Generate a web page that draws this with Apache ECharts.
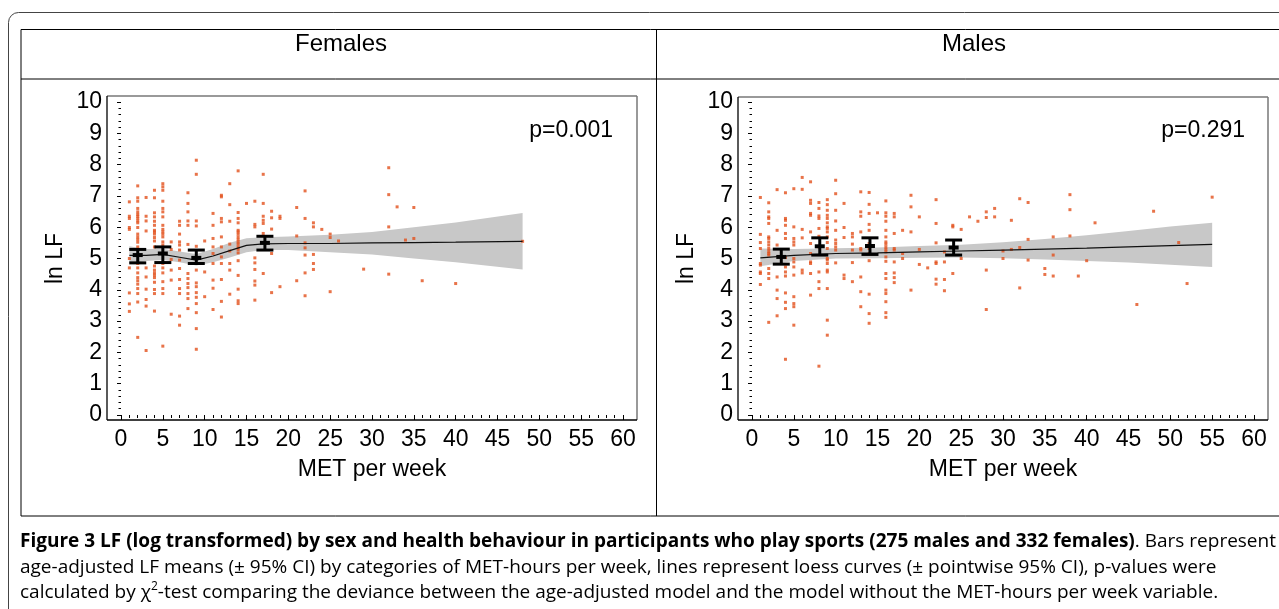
<!DOCTYPE html>
<html><head><meta charset="utf-8">
<script src="https://cdn.jsdelivr.net/npm/echarts@6/dist/echarts.min.js"></script>
<style>html,body{margin:0;padding:0;background:#fff}#c{width:1279px;height:609px}</style>
</head><body><div id="c"></div>
<script>
// ---------- data ----------
const panelTitles = ['Females', 'Males'];
const pValues = ['p=0.001', 'p=0.291'];
const xTickValues = [0,5,10,15,20,25,30,35,40,45,50,55,60];
const yTickValues = [0,1,2,3,4,5,6,7,8,9,10];

// scatter: [MET, [ln LF values]]
const femaleScatter = [
 [1,[6.81,6.35,6.28,5.99,5.93,5.0,4.70,3.90,3.55,3.31]],
 [2,[7.32,6.94,6.83,6.60,6.49,6.41,6.35,6.28,6.20,6.14,5.99,5.78,5.69,5.61,5.52,5.37,4.84,4.70,4.54,4.39,4.29,4.18,4.04,3.88,3.61,2.48]],
 [3,[6.95,6.35,6.20,5.88,4.70,4.41,4.02,3.69,3.48,2.06]],
 [4,[7.18,6.94,6.46,6.33,6.19,6.06,5.90,5.85,5.78,5.67,5.56,5.37,4.76,4.63,4.54,4.47,4.39,4.24,4.01,3.88,3.32]],
 [5,[7.39,7.29,7.18,6.83,6.60,6.49,6.33,6.06,5.93,5.85,5.78,5.69,5.53,5.43,4.84,4.70,4.54,4.26,4.04,3.88,2.20]],
 [6,[5.53,5.29,4.97,4.63,4.31,3.22]],
 [7,[6.19,6.06,5.78,5.53,5.43,5.27,4.95,4.68,4.33,4.04,3.88,3.16,2.87]],
 [8,[7.10,6.76,6.49,6.20,6.06,5.45,4.52,4.36,4.20,4.07,3.88,3.72,3.40]],
 [9,[8.14,7.69,6.20,6.04,5.39,4.63,4.22,4.10,3.91,3.76,3.56,3.27,2.76,2.10]],
 [10,[5.56,4.57,3.78]],
 [11,[6.44,6.06,5.64,5.37,5.16,4.84,4.31,4.05,3.37]],
 [12,[7.02,6.97,6.28,6.17,5.69,5.37,5.05,4.84,4.33,3.63,3.13]],
 [13,[7.39,6.72,6.19,5.46,5.24,4.84,4.63,3.86]],
 [14,[7.80,6.47,6.28,6.14,5.90,5.85,5.78,5.69,5.61,5.53,5.46,5.37,5.29,5.18,4.93,4.46,4.02,3.65,3.56]],
 [15,[6.76]],
 [16,[6.83,6.09,6.01,5.02,4.86,4.65,4.28,4.15,3.67]],
 [17,[7.69,6.76,6.35,6.22,6.12,5.80,4.52]],
 [18,[6.51,6.30,5.94,5.16,3.91]],
 [19,[6.35,6.28,4.10]],
 [21,[6.63,5.72,4.29]],
 [22,[7.16,6.28,5.50,5.34,5.11,4.54,3.81]],
 [23,[6.14,6.01,5.13,4.84,4.65]],
 [24,[5.93]],
 [25,[5.78,5.67,3.94]],
 [26,[5.56]],
 [29,[4.66]],
 [32,[7.90,7.04,6.01,4.50]],
 [33,[6.65]],
 [34,[5.59]],
 [35,[6.63,5.64]],
 [36,[4.29]],
 [40,[4.20]],
 [48,[5.55]]
];
const maleScatter = [
 [1,[6.95,5.77,5.51,5.32,4.84,4.79,4.57,4.52,4.17]],
 [2,[6.78,6.49,6.33,6.28,6.12,5.69,5.64,5.53,5.43,5.32,5.23,5.16,5.11,4.68,4.52,4.36,2.96]],
 [3,[7.20,5.90,5.43,4.41,3.99,3.72,3.17]],
 [4,[7.10,6.28,6.22,6.06,5.80,5.64,5.03,4.73,4.57,4.44,3.90,3.60,3.40,1.78]],
 [5,[7.23,6.01,5.64,5.53,5.43,5.00,4.89,4.73,4.47,3.78,3.56,3.46,2.87]],
 [6,[7.59,7.21,5.93,5.66,4.63,4.54]],
 [7,[7.45,6.86,6.76,6.44,6.38,5.85,5.48,5.16,4.89,4.84,4.52,3.83]],
 [8,[6.79,6.60,6.36,6.28,5.96,5.71,5.37,4.57,4.26,4.04,1.56]],
 [9,[6.88,6.72,6.54,6.38,6.28,6.14,6.01,5.96,5.85,5.69,5.51,5.32,5.00,4.95,4.84,4.63,4.57,4.04,3.03,2.55]],
 [10,[7.50,7.07,6.54,6.20,5.90,5.59,5.48,5.37,5.27,4.86]],
 [11,[6.76,5.99,5.67,4.47,4.36]],
 [12,[5.80,5.69,5.46,5.27,4.87,4.26]],
 [13,[7.13,6.49,6.35,5.85,5.32,5.27,4.41,3.94,3.46]],
 [14,[7.11,6.73,6.44,6.09,5.90,5.48,5.32,5.16,4.93,3.86,3.24,2.93]],
 [15,[6.46]],
 [16,[6.84,6.46,6.35,6.19,5.90,5.69,5.53,5.46,5.37,5.29,5.21,5.05,4.91,4.52,4.36,3.99,3.88,3.62,3.27,3.12]],
 [17,[6.44,6.33,5.80,5.32,5.27,4.89,4.54,4.39,4.23]],
 [18,[5.90,5.16,5.00]],
 [19,[7.02,6.65,5.85,3.99]],
 [20,[6.33,5.29,4.81]],
 [21,[4.70]],
 [22,[6.88,6.12,5.50,4.89,4.84,4.34,4.18]],
 [23,[5.21,4.89,4.33,3.97]],
 [24,[6.06,6.01,4.52]],
 [25,[5.93,5.00]],
 [26,[6.33]],
 [27,[6.19]],
 [28,[6.49,6.31,4.63,3.37]],
 [29,[6.60,6.33]],
 [30,[5.24,5.00]],
 [31,[6.22,5.29]],
 [32,[6.91,5.35,4.06]],
 [33,[6.79,5.61,4.95]],
 [35,[4.68,4.49]],
 [36,[5.69,5.11,4.44]],
 [38,[7.04,6.56,5.72]],
 [39,[4.44]],
 [40,[4.93]],
 [41,[6.14]],
 [46,[3.53]],
 [48,[6.51]],
 [51,[5.51]],
 [52,[4.20]],
 [55,[6.96]]
];

// loess curves with pointwise 95% CI
const femaleLoessX  = [1,3,5,7,9,11,13,15,17,20,25,30,35,40,48];
const femaleLoessY  = [5.10,5.10,5.13,5.04,4.95,5.08,5.25,5.42,5.47,5.48,5.48,5.50,5.51,5.52,5.55];
const femaleLoessHi = [5.39,5.30,5.31,5.22,5.14,5.30,5.50,5.65,5.68,5.70,5.76,5.85,6.00,6.15,6.45];
const femaleLoessLo = [4.85,4.92,4.95,4.88,4.78,4.88,5.03,5.20,5.27,5.27,5.20,5.13,5.00,4.88,4.65];
const maleLoessX  = [1,5,10,15,20,25,30,35,40,45,50,55];
const maleLoessY  = [5.02,5.10,5.16,5.18,5.21,5.24,5.27,5.30,5.33,5.37,5.41,5.45];
const maleLoessHi = [5.32,5.30,5.33,5.35,5.40,5.44,5.52,5.62,5.74,5.88,6.02,6.14];
const maleLoessLo = [4.75,4.92,5.00,5.01,5.02,5.03,5.01,4.97,4.92,4.87,4.80,4.73];

// age-adjusted means (± 95% CI) by MET category
const femaleBarX    = [2, 5, 9, 17.2];
const femaleBarMean = [5.11, 5.16, 5.02, 5.50];
const femaleBarLo   = [4.86, 4.87, 4.84, 5.27];
const femaleBarHi   = [5.29, 5.37, 5.27, 5.71];
const maleBarX    = [3.5, 8.1, 14.1, 24.1];
const maleBarMean = [5.05, 5.39, 5.40, 5.35];
const maleBarLo   = [4.82, 5.11, 5.13, 5.11];
const maleBarHi   = [5.30, 5.66, 5.66, 5.59];

const captionBold = 'Figure 3 LF (log transformed) by sex and health behaviour in participants who play sports (275 males and 332 females)';
const captionRest1 = '. Bars represent';
const captionLine2 = 'age-adjusted LF means (± 95% CI) by categories of MET-hours per week, lines represent loess curves (± pointwise 95% CI), p-values were';
const captionLine3a = 'calculated by χ';
const captionLine3b = '2';
const captionLine3c = '-test comparing the deviance between the age-adjusted model and the model without the MET-hours per week variable.';

// ---------- build ----------
const FONT = 'Liberation Sans';
const CAPFONT = 'Open Sans';
const FS = 23;
const CFS = 19;
const DOT = '#e2501c';

function flatten(groups){ const out=[]; groups.forEach(g=>g[1].forEach(v=>out.push([g[0],v]))); return out; }
function zip2(a,b){ return a.map((v,i)=>[v,b[i]]); }
function bars(x,m,lo,hi){ return x.map((v,i)=>[v,lo[i],hi[i],m[i]]); }
function bandRows(x,lo,hi){ return x.map((v,i)=>[v,lo[i],hi[i]]); }

const grids = [
  {left:121, top:102, width:502, height:313},
  {left:752, top:102, width:502, height:313}
];

function xAxisFor(i){
  return {type:'value', gridIndex:i, min:0, max:60, interval:5, offset:5,
    axisLine:{show:false},
    axisTick:{show:true, length:5, inside:false, lineStyle:{color:'#000', width:1}},
    minorTick:{show:true, splitNumber:5, length:3, lineStyle:{color:'#000', width:1}},
    splitLine:{show:false},
    axisLabel:{margin:8, fontSize:FS, color:'#000', fontFamily:FONT,
      formatter:v=> xTickValues.includes(v) ? String(v) : ''},
    name:'MET per week', nameLocation:'middle', nameGap:38,
    nameTextStyle:{fontSize:FS, color:'#000', fontFamily:FONT}};
}
function yAxisFor(i){
  return {type:'value', gridIndex:i, min:0, max:10, interval:1, offset:14,
    axisLine:{show:false},
    axisTick:{show:true, length:4, lineStyle:{color:'#000', width:1}},
    minorTick:{show:true, splitNumber:5, length:2.5, lineStyle:{color:'#000', width:1}},
    splitLine:{show:false},
    axisLabel:{margin:5, fontSize:FS, color:'#000', fontFamily:FONT,
      formatter:v=> yTickValues.includes(v) ? String(v) : ''},
    name:'ln LF', nameLocation:'middle', nameGap:40, nameRotate:90,
    nameTextStyle:{fontSize:FS, color:'#000', fontFamily:FONT}};
}

function bandSeries(i, rows){
  return {type:'custom', xAxisIndex:i, yAxisIndex:i, z:1, silent:true,
    data:[0],
    renderItem:(params, api)=>{
      const top = rows.map(r=>api.coord([r[0], r[2]]));
      const bot = rows.slice().reverse().map(r=>api.coord([r[0], r[1]]));
      return {type:'polygon', shape:{points: top.concat(bot)}, style:{fill:'#c8c8c8', stroke:null}};
    }};
}
function errSeries(i, rows){
  return {type:'custom', xAxisIndex:i, yAxisIndex:i, z:5, silent:true,
    data: rows,
    renderItem:(params, api)=>{
      const x = api.value(0);
      const lo = api.coord([x, api.value(1)]);
      const hi = api.coord([x, api.value(2)]);
      const m  = api.coord([x, api.value(3)]);
      const cw = 8.5, mw = 5;
      return {type:'group', children:[
        {type:'line', shape:{x1:lo[0], y1:lo[1], x2:hi[0], y2:hi[1]}, style:{stroke:'#000', lineWidth:3}},
        {type:'line', shape:{x1:hi[0]-cw, y1:hi[1], x2:hi[0]+cw, y2:hi[1]}, style:{stroke:'#000', lineWidth:3}},
        {type:'line', shape:{x1:lo[0]-cw, y1:lo[1], x2:lo[0]+cw, y2:lo[1]}, style:{stroke:'#000', lineWidth:3}},
        {type:'rect', shape:{x:m[0]-mw, y:m[1]-2, width:2*mw, height:4}, style:{fill:'#000'}}
      ]};
    }};
}

const series = [
  bandSeries(0, bandRows(femaleLoessX, femaleLoessLo, femaleLoessHi)),
  bandSeries(1, bandRows(maleLoessX, maleLoessLo, maleLoessHi)),
  {type:'scatter', xAxisIndex:0, yAxisIndex:0, z:2, symbol:'rect', symbolSize:3, itemStyle:{color:DOT}, data:flatten(femaleScatter), silent:true},
  {type:'scatter', xAxisIndex:1, yAxisIndex:1, z:2, symbol:'rect', symbolSize:3, itemStyle:{color:DOT}, data:flatten(maleScatter), silent:true},
  {type:'line', xAxisIndex:0, yAxisIndex:0, z:3, symbol:'none', lineStyle:{color:'#111', width:1.2}, data:zip2(femaleLoessX, femaleLoessY), silent:true},
  {type:'line', xAxisIndex:1, yAxisIndex:1, z:3, symbol:'none', lineStyle:{color:'#111', width:1.2}, data:zip2(maleLoessX, maleLoessY), silent:true},
  errSeries(0, bars(femaleBarX, femaleBarMean, femaleBarLo, femaleBarHi)),
  errSeries(1, bars(maleBarX, maleBarMean, maleBarLo, maleBarHi))
];

function boxGraphics(x0,y0,x1,y1){
  return [
    {type:'line', shape:{x1:x0, y1:y0, x2:x1, y2:y0}, style:{stroke:'#777', lineWidth:1.5}},
    {type:'line', shape:{x1:x1, y1:y0, x2:x1, y2:y1}, style:{stroke:'#777', lineWidth:1.5}},
    {type:'line', shape:{x1:x0, y1:y1, x2:x1, y2:y1}, style:{stroke:'#000', lineWidth:1.3}},
    {type:'line', shape:{x1:x0, y1:y0, x2:x0, y2:y1}, style:{stroke:'#000', lineWidth:1.3}}
  ];
}

const graphic = [
  {type:'rect', shape:{x:8.5, y:12.5, width:1300, height:640, r:10}, style:{fill:'none', stroke:'#444', lineWidth:1}},
  {type:'rect', shape:{x:21, y:29.5, width:1300, height:486.5}, style:{fill:'none', stroke:'#000', lineWidth:1}},
  {type:'line', shape:{x1:21, y1:79, x2:1300, y2:79}, style:{stroke:'#000', lineWidth:1}},
  {type:'line', shape:{x1:656.5, y1:29.5, x2:656.5, y2:516}, style:{stroke:'#000', lineWidth:1}},
  {type:'text', x:341, y:44, style:{text:panelTitles[0], font:'24px "'+FONT+'"', fill:'#000', align:'center', verticalAlign:'middle'}},
  {type:'text', x:974, y:44, style:{text:panelTitles[1], font:'24px "'+FONT+'"', fill:'#000', align:'center', verticalAlign:'middle'}},
  {type:'text', x:613, y:131, style:{text:pValues[0], font:FS+'px "'+FONT+'"', fill:'#000', align:'right', verticalAlign:'middle'}},
  {type:'text', x:1245, y:131, style:{text:pValues[1], font:FS+'px "'+FONT+'"', fill:'#000', align:'right', verticalAlign:'middle'}},
  ...boxGraphics(107,96,637,420),
  ...boxGraphics(738,97,1268,420),
  {type:'text', x:20, y:542, style:{
    text:'{b|'+captionBold+'}{n|'+captionRest1+'}',
    rich:{b:{fontFamily:CAPFONT, fontWeight:'bold', fontSize:CFS, fill:'#000', color:'#000'},
          n:{fontFamily:CAPFONT, fontSize:CFS, fill:'#000', color:'#000'}},
    verticalAlign:'middle'}},
  {type:'text', x:20, y:568, style:{text:captionLine2, font:CFS+'px "'+CAPFONT+'"', fill:'#000', verticalAlign:'middle'}},
  {type:'text', x:20, y:593, style:{
    text:'{n|'+captionLine3a+'}{s|'+captionLine3b+'}{n|'+captionLine3c+'}',
    rich:{n:{fontFamily:CAPFONT, fontSize:CFS, fill:'#000', color:'#000'},
          s:{fontFamily:CAPFONT, fontSize:12, fill:'#000', color:'#000', verticalAlign:'top', padding:[0,0,12,0]}},
    verticalAlign:'middle'}}
];

const chart = echarts.init(document.getElementById('c'), null, {renderer:'canvas'});
chart.setOption({
  animation:false,
  backgroundColor:'#fff',
  grid:grids,
  xAxis:[xAxisFor(0), xAxisFor(1)],
  yAxis:[yAxisFor(0), yAxisFor(1)],
  series:series,
  graphic:graphic
});
</script></body></html>
